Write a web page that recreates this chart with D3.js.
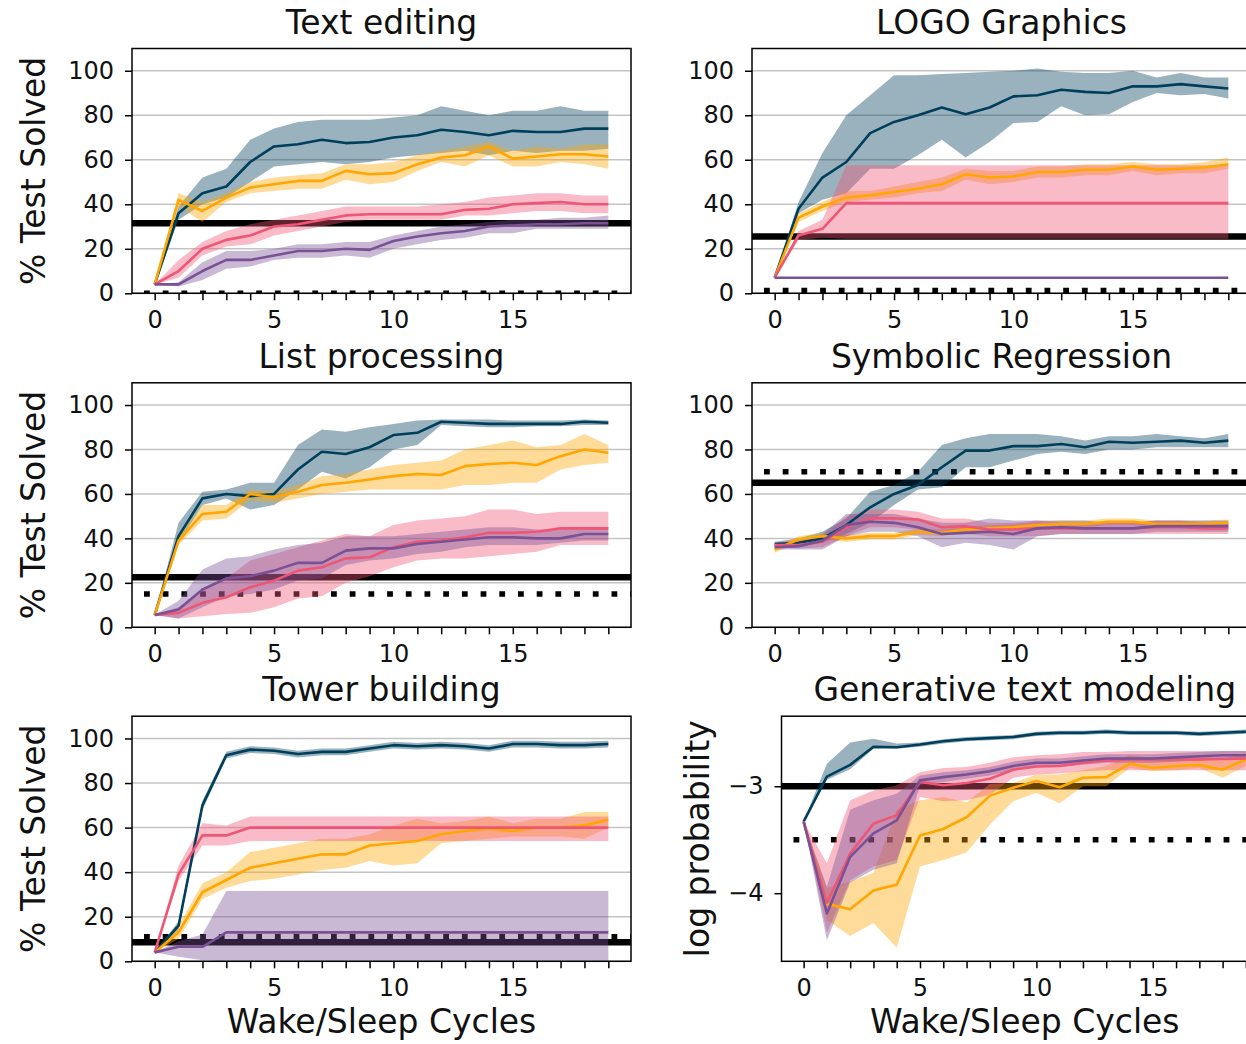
<!DOCTYPE html>
<html>
<head>
<meta charset="utf-8">
<style>
  body { margin: 0; background: #fff; }
  text { font-family: "DejaVu Sans", sans-serif; fill: #111; }
</style>
</head>
<body>
<div id="chart"></div>
<script src="https://d3js.org/d3.v7.min.js"></script>
<script>
// wake/sleep cycle index
var cycles = [0, 1, 2, 3, 4, 5, 6, 7, 8, 9, 10, 11, 12, 13, 14, 15, 16, 17, 18, 19];
var pctTicks = [0, 20, 40, 60, 80, 100];
var logTicks = [-4, -3];

// ---- Text editing
var te_blue    = [4, 36, 45, 48, 59, 66, 67, 69, 67.5, 68, 70, 71, 73.5, 72.5, 71, 73, 72.5, 72.5, 74, 74];
var te_blue_lo = [4, 33, 40, 43, 50, 57, 58, 59, 58, 59, 61, 62, 63, 64, 62, 64, 63, 64, 64, 65];
var te_blue_hi = [4, 39, 52, 56, 69, 74, 77, 78, 78, 78, 79, 80, 84, 82, 80, 82, 82, 84, 82, 82];
var te_orange    = [4, 42, 37, 43, 47.5, 49, 50.5, 50.5, 55, 53.5, 54, 58, 61, 62, 66, 60.5, 61.5, 62.5, 62.5, 61.5];
var te_orange_lo = [4, 39, 32, 41, 45, 46, 47, 47, 51, 49, 50, 55, 59, 57, 62, 57, 57, 59, 58, 56];
var te_orange_hi = [4, 45, 41, 45, 50, 52, 53, 54, 58, 58, 59, 62, 64, 66, 68, 64, 66, 65, 67, 67];
var te_pink    = [4, 10, 20, 24, 26, 30, 31, 33, 35, 35.5, 35.5, 35.5, 35.5, 37.5, 38, 40, 40.5, 41, 40, 40];
var te_pink_lo = [4, 7, 17, 21, 22, 26, 28, 30, 32, 33, 33, 33, 33, 35, 35, 36, 37, 37, 36, 36];
var te_pink_hi = [4, 15, 23, 28, 31, 33, 35, 37, 39, 39, 39, 39, 40, 41, 43, 44, 45, 45, 44, 44];
var te_purple    = [4, 4, 10, 15, 15, 17, 19, 19, 20, 19.5, 23.5, 25.5, 27, 28, 30, 30.5, 31, 31, 31.5, 31.5];
var te_purple_lo = [4, 3, 6, 11, 12, 15, 16, 16, 17, 16, 20, 22, 24, 25, 27, 27, 29, 29, 29, 29];
var te_purple_hi = [4, 5, 14, 19, 19, 20, 22, 22, 23, 23, 26, 28, 30, 31, 32, 33, 33, 34, 34, 35];
var te_solid = 31.5, te_dotted = 0;

// ---- LOGO Graphics
var lg_blue    = [7, 38, 52, 59, 72, 77, 80, 83.5, 80.5, 83.5, 88.5, 89, 91.5, 90.5, 90, 93, 93, 94, 93, 92];
var lg_blue_lo = [7, 36, 42, 45, 56, 56, 62, 69, 61, 68, 76.5, 77, 84, 80, 80.5, 86, 90, 89, 89.5, 87.5];
var lg_blue_hi = [7, 41, 63, 80, 89, 98, 98, 98.5, 99, 99.5, 100, 101, 99.5, 99, 99, 100, 97, 99, 97, 97];
var lg_orange    = [7, 34, 39, 43, 44, 45.5, 47, 49, 53.5, 52, 52.5, 54.5, 54.5, 55.5, 55.5, 57, 55.5, 56, 56.5, 58];
var lg_orange_lo = [7, 32, 37, 41, 42, 43, 45, 46, 51, 49, 50, 52, 52, 53, 53, 55, 53, 54, 54, 56];
var lg_orange_hi = [7, 36, 41, 46, 46, 48, 50, 52, 56, 55, 55, 57, 57, 58, 58, 59, 58, 58, 59, 61];
var lg_pink    = [7, 26, 29, 40.5, 40.5, 40.5, 40.5, 40.5, 40.5, 40.5, 40.5, 40.5, 40.5, 40.5, 40.5, 40.5, 40.5, 40.5, 40.5, 40.5];
var lg_pink_lo = [7, 24, 25, 24.5, 24.5, 24.5, 24.5, 24.5, 24.5, 24.5, 24.5, 24.5, 24.5, 24.5, 24.5, 24.5, 24.5, 24.5, 24.5, 24.5];
var lg_pink_hi = [7, 28, 33, 57.5, 57.5, 57.5, 57.5, 57.5, 57.5, 57.5, 57.5, 57.5, 57.5, 57.5, 57.5, 57.5, 57.5, 57.5, 57.5, 57.5];
var lg_purple    = [7, 7, 7, 7, 7, 7, 7, 7, 7, 7, 7, 7, 7, 7, 7, 7, 7, 7, 7, 7];
var lg_purple_lo = [7, 7, 7, 7, 7, 7, 7, 7, 7, 7, 7, 7, 7, 7, 7, 7, 7, 7, 7, 7];
var lg_purple_hi = [7, 7, 7, 7, 7, 7, 7, 7, 7, 7, 7, 7, 7, 7, 7, 7, 7, 7, 7, 7];
var lg_solid = 25.5, lg_dotted = 1.3;

// ---- List processing
var lp_blue    = [5.5, 41, 58, 60, 59, 60, 71, 79, 78, 81, 86.5, 87.5, 92.5, 92, 91.5, 91.5, 91.5, 91.5, 92.5, 92];
var lp_blue_lo = [5.5, 38, 55, 58, 53, 55, 62, 70, 67, 72, 80, 82, 91, 90.5, 90, 90, 90.5, 90.5, 91, 91];
var lp_blue_hi = [5.5, 47, 61, 62, 65, 65, 82, 89, 88, 90, 91.5, 93, 93.5, 93.5, 93.5, 93, 93, 93, 93.5, 93];
var lp_orange    = [5.5, 39, 51, 52, 60, 58.5, 61, 64, 65, 66.5, 68, 69, 68.5, 72.5, 73.5, 74, 73, 77, 80, 78.5];
var lp_orange_lo = [5.5, 37, 48, 49, 57, 56, 58, 60, 61, 62, 62, 62, 62, 64, 64, 65, 65, 71, 73, 74];
var lp_orange_hi = [5.5, 41, 55, 55, 62, 61, 64, 68, 69, 71, 73, 74, 75, 80, 82, 84, 81, 82, 87, 82];
var lp_pink    = [5.5, 6.5, 11, 13.5, 18, 21, 25.5, 27, 31, 31.5, 36, 38.5, 39, 40.5, 42.5, 42.5, 43, 44.5, 44.5, 44.5];
var lp_pink_lo = [5.5, 4, 5, 6, 6.5, 9, 13, 14, 20, 23, 27, 30, 31, 31, 32, 33, 34, 37, 37, 37];
var lp_pink_hi = [5.5, 9, 17, 22, 30, 33, 36, 39, 42, 41, 46, 48, 49, 50, 53, 53, 51, 52, 52, 52];
var lp_purple    = [5.5, 8, 17, 22, 23, 25.5, 29, 29, 34.5, 35.5, 35.5, 37.5, 38.5, 39.5, 40.5, 40.5, 40, 40, 42, 42];
var lp_purple_lo = [5.5, 4, 9, 14, 15, 17, 21, 22, 28, 30, 31, 33, 34, 36, 37, 37, 37, 38, 39, 39];
var lp_purple_hi = [5.5, 12, 26, 31, 32, 35, 37, 38, 41, 41, 41, 42, 43, 44, 45, 45, 44, 44, 45, 45];
var lp_solid = 22.5, lp_dotted = 15;

// ---- Symbolic Regression
var sr_blue    = [37.5, 38, 40, 46, 54, 60, 64, 72, 79.5, 79.5, 81.5, 81.5, 82.5, 81, 83.5, 83, 83.5, 84, 83, 84];
var sr_blue_lo = [36.5, 37, 38, 42, 47, 55, 62, 63, 72, 72, 75, 78, 79, 78, 80, 80, 81, 81, 81, 81];
var sr_blue_hi = [38.5, 40, 43, 49, 61, 64, 70, 82, 85, 87, 87, 87, 86, 84, 86, 86, 87, 86, 85, 87];
var sr_orange    = [35, 39.5, 41, 40, 41, 41, 43, 42.5, 44, 44.5, 45, 46, 46.5, 46.5, 47.5, 47.5, 46.5, 46.5, 46.5, 47];
var sr_orange_lo = [33.5, 38, 39.5, 38.5, 39.5, 39.5, 41.5, 41, 42.5, 43, 43.5, 44.5, 45, 45, 46, 46, 45, 45, 45, 45.5];
var sr_orange_hi = [36.5, 41, 42.5, 41.5, 42.5, 42.5, 44.5, 44, 45.5, 46, 46.5, 47.5, 48, 48, 49, 49, 48, 48, 48, 48.5];
var sr_pink    = [37, 37, 38.5, 45, 49, 49, 48.5, 45, 45.5, 44, 44, 44.5, 44.5, 44.5, 44.5, 44.5, 45, 45, 44.5, 44.5];
var sr_pink_lo = [36, 35.5, 36, 41, 45, 45, 44, 42, 42, 41, 41, 41, 42, 42, 42, 42, 42, 42, 42, 42];
var sr_pink_hi = [38, 39, 41, 50, 53, 53, 52, 49, 49, 47, 47, 48, 47, 47, 47, 47, 48, 48, 47, 47];
var sr_purple    = [36, 36.5, 39, 46, 47.5, 47, 45, 42, 42.5, 43, 42, 44.5, 45, 44.5, 44.5, 44.5, 45.5, 45.5, 45.5, 45.5];
var sr_purple_lo = [35, 35, 35, 41, 43, 43, 41, 36, 38, 37, 35, 41, 42, 42, 42, 42, 43, 43, 43, 43];
var sr_purple_hi = [37, 38, 42, 51, 51, 51, 49, 47, 47, 49, 48, 48, 48, 48, 47, 47, 48, 48, 48, 48];
var sr_solid = 65, sr_dotted = 70;

// ---- Tower building
var tb_blue    = [4, 16, 70, 92.5, 95, 94.5, 93, 94, 94, 95.5, 97, 96.5, 97, 96.5, 95.5, 97.5, 97.5, 97, 97, 97.5];
var tb_blue_lo = [4, 14, 68, 91, 93.5, 93, 91.5, 92.5, 92.5, 94, 95.5, 95, 95.5, 95, 94, 96, 96, 95.5, 95.5, 96];
var tb_blue_hi = [4, 18, 72, 94, 96.5, 96, 94.5, 95.5, 95.5, 97, 98.5, 98, 98.5, 98, 97, 99, 99, 98.5, 98.5, 99];
var tb_orange    = [4, 13, 31, 36.5, 42, 44, 46, 48, 48, 52, 53, 54, 57, 58.5, 59.5, 58.5, 60, 60, 61, 63.5];
var tb_orange_lo = [4, 10, 28, 33, 36, 37, 39, 41, 42, 45, 43, 44, 53, 54, 55, 56, 56, 56, 55, 60];
var tb_orange_hi = [4, 16, 35, 40, 49, 51, 53, 55, 55, 57, 61, 64, 62, 63, 65, 62, 64, 64, 67, 67];
var tb_pink    = [4, 39, 56.5, 56.5, 60, 60, 60, 60, 60, 60, 60, 60, 60, 60, 60, 60, 60, 60, 60, 60];
var tb_pink_lo = [4, 36, 52, 52, 54, 54, 54, 54, 54, 54, 54, 54, 54, 54, 54, 54, 54, 54, 54, 54];
var tb_pink_hi = [4, 43, 62, 61, 65, 65, 65, 65, 65, 65, 65, 65, 65, 65, 65, 65, 65, 65, 65, 65];
var tb_purple    = [4, 6.5, 6.5, 13, 13, 13, 13, 13, 13, 13, 13, 13, 13, 13, 13, 13, 13, 13, 13, 13];
var tb_purple_lo = [4, 2, 0.5, 0, 0, 0, 0, 0, 0, 0, 0, 0, 0, 0, 0, 0, 0, 0, 0, 0];
var tb_purple_hi = [4, 9, 12, 31.5, 31.5, 31.5, 31.5, 31.5, 31.5, 31.5, 31.5, 31.5, 31.5, 31.5, 31.5, 31.5, 31.5, 31.5, 31.5, 31.5];
var tb_solid = 8.5, tb_dotted = 11;

// ---- Generative text modeling (log probability)
var gt_blue    = [-3.33, -2.91, -2.80, -2.63, -2.635, -2.61, -2.58, -2.56, -2.55, -2.54, -2.51, -2.50, -2.50, -2.49, -2.50, -2.50, -2.50, -2.51, -2.50, -2.49];
var gt_blue_lo = [-3.33, -2.94, -2.84, -2.65, -2.65, -2.63, -2.60, -2.58, -2.57, -2.56, -2.53, -2.52, -2.52, -2.51, -2.52, -2.52, -2.52, -2.53, -2.52, -2.51];
var gt_blue_hi = [-3.33, -2.79, -2.59, -2.555, -2.60, -2.59, -2.56, -2.54, -2.53, -2.52, -2.49, -2.48, -2.48, -2.47, -2.48, -2.48, -2.48, -2.49, -2.48, -2.47];
var gt_orange    = [-3.33, -4.10, -4.15, -3.975, -3.92, -3.46, -3.40, -3.29, -3.09, -3.015, -2.95, -3.01, -2.92, -2.915, -2.79, -2.83, -2.81, -2.80, -2.845, -2.75];
var gt_orange_lo = [-3.33, -4.25, -4.40, -4.28, -4.51, -3.75, -3.69, -3.62, -3.36, -3.14, -3.06, -3.16, -3.00, -3.00, -2.83, -2.86, -2.85, -2.83, -2.92, -2.81];
var gt_orange_hi = [-3.33, -3.95, -3.89, -3.81, -3.22, -3.13, -3.10, -3.15, -2.98, -2.97, -2.89, -2.89, -2.85, -2.81, -2.71, -2.74, -2.72, -2.71, -2.75, -2.69];
var gt_pink    = [-3.33, -4.09, -3.63, -3.35, -3.27, -2.96, -2.99, -2.97, -2.93, -2.845, -2.815, -2.81, -2.78, -2.76, -2.75, -2.75, -2.75, -2.75, -2.745, -2.74];
var gt_pink_lo = [-3.33, -4.37, -3.88, -3.75, -3.69, -3.10, -3.14, -3.13, -3.08, -2.92, -2.89, -2.88, -2.86, -2.85, -2.85, -2.85, -2.85, -2.85, -2.85, -2.85];
var gt_pink_hi = [-3.33, -3.72, -3.13, -3.04, -2.99, -2.87, -2.83, -2.82, -2.78, -2.73, -2.71, -2.70, -2.68, -2.68, -2.67, -2.67, -2.67, -2.67, -2.67, -2.67];
var gt_purple    = [-3.33, -4.19, -3.66, -3.44, -3.32, -2.945, -2.915, -2.89, -2.86, -2.81, -2.78, -2.78, -2.76, -2.74, -2.74, -2.74, -2.73, -2.72, -2.71, -2.71];
var gt_purple_lo = [-3.33, -4.44, -3.90, -3.78, -3.72, -2.99, -2.96, -2.93, -2.90, -2.85, -2.82, -2.82, -2.80, -2.78, -2.78, -2.78, -2.77, -2.76, -2.75, -2.75];
var gt_purple_hi = [-3.33, -3.94, -3.22, -3.13, -3.07, -2.90, -2.87, -2.85, -2.82, -2.77, -2.74, -2.74, -2.72, -2.70, -2.70, -2.70, -2.69, -2.68, -2.67, -2.67];
var gt_solid = -3.0, gt_dotted = -3.5;

var colors = { blue: "#003f5c", orange: "#ffa600", pink: "#ef5675", purple: "#7a5195" };

function four(b, bl, bh, o, ol, oh, p, pl, ph, u, ul, uh) {
  return [
    { color: colors.blue,   mean: b, lo: bl, hi: bh },
    { color: colors.orange, mean: o, lo: ol, hi: oh },
    { color: colors.pink,   mean: p, lo: pl, hi: ph },
    { color: colors.purple, mean: u, lo: ul, hi: uh }
  ];
}

var rowTop = [48.5, 382.8, 716.2], rowBottom = [293.3, 627.3, 961.3];

var panels = [
  { title: "Text editing", left: 132, right: 631, row: 0, ydom: [0, 110], yticks: pctTicks, grid: true,
    ylabel: "% Test Solved", solid: te_solid, dotted: te_dotted,
    series: four(te_blue, te_blue_lo, te_blue_hi, te_orange, te_orange_lo, te_orange_hi,
                 te_pink, te_pink_lo, te_pink_hi, te_purple, te_purple_lo, te_purple_hi) },
  { title: "LOGO Graphics", left: 752, right: 1251, row: 0, ydom: [0, 110], yticks: pctTicks, grid: true,
    solid: lg_solid, dotted: lg_dotted,
    series: four(lg_blue, lg_blue_lo, lg_blue_hi, lg_orange, lg_orange_lo, lg_orange_hi,
                 lg_pink, lg_pink_lo, lg_pink_hi, lg_purple, lg_purple_lo, lg_purple_hi) },
  { title: "List processing", left: 132, right: 631, row: 1, ydom: [0, 110], yticks: pctTicks, grid: true,
    ylabel: "% Test Solved", solid: lp_solid, dotted: lp_dotted,
    series: four(lp_blue, lp_blue_lo, lp_blue_hi, lp_orange, lp_orange_lo, lp_orange_hi,
                 lp_pink, lp_pink_lo, lp_pink_hi, lp_purple, lp_purple_lo, lp_purple_hi) },
  { title: "Symbolic Regression", left: 752, right: 1251, row: 1, ydom: [0, 110], yticks: pctTicks, grid: true,
    solid: sr_solid, dotted: sr_dotted,
    series: four(sr_blue, sr_blue_lo, sr_blue_hi, sr_orange, sr_orange_lo, sr_orange_hi,
                 sr_pink, sr_pink_lo, sr_pink_hi, sr_purple, sr_purple_lo, sr_purple_hi) },
  { title: "Tower building", left: 132, right: 631, row: 2, ydom: [0, 110], yticks: pctTicks, grid: true,
    ylabel: "% Test Solved", xlabel: "Wake/Sleep Cycles", solid: tb_solid, dotted: tb_dotted,
    series: four(tb_blue, tb_blue_lo, tb_blue_hi, tb_orange, tb_orange_lo, tb_orange_hi,
                 tb_pink, tb_pink_lo, tb_pink_hi, tb_purple, tb_purple_lo, tb_purple_hi) },
  { title: "Generative text modeling", left: 781.5, right: 1268, row: 2, ydom: [-4.637, -2.345], yticks: logTicks, grid: false,
    ylabel: "log probability", ylabelX: 709, xlabel: "Wake/Sleep Cycles", solid: gt_solid, dotted: gt_dotted,
    series: four(gt_blue, gt_blue_lo, gt_blue_hi, gt_orange, gt_orange_lo, gt_orange_hi,
                 gt_pink, gt_pink_lo, gt_pink_hi, gt_purple, gt_purple_lo, gt_purple_hi) }
];

var svg = d3.select("#chart").append("svg")
  .attr("width", 1246).attr("height", 1044)
  .style("background", "#fff");

panels.forEach(function(p, k) {
  var top = rowTop[p.row], bottom = rowBottom[p.row];
  var x = d3.scaleLinear().domain([-0.95, 19.95]).range([p.left, p.right]);
  var y = d3.scaleLinear().domain(p.ydom).range([bottom, top]);
  var g = svg.append("g");

  g.append("clipPath").attr("id", "clip" + k)
    .append("rect").attr("x", p.left).attr("y", top)
    .attr("width", p.right - p.left).attr("height", bottom - top);
  var plot = g.append("g").attr("clip-path", "url(#clip" + k + ")");

  if (p.grid) {
    plot.selectAll(".grid").data(p.yticks).enter().append("line")
      .attr("x1", p.left).attr("x2", p.right)
      .attr("y1", function(d) { return y(d); }).attr("y2", function(d) { return y(d); })
      .attr("stroke", "#c4c4c4").attr("stroke-width", 1.5);
  }

  // reference lines
  plot.append("line")
    .attr("x1", p.left).attr("x2", p.right)
    .attr("y1", y(p.solid)).attr("y2", y(p.solid))
    .attr("stroke", "#000").attr("stroke-width", 6.5);
  plot.append("line")
    .attr("x1", p.left).attr("x2", p.right)
    .attr("y1", y(p.dotted)).attr("y2", y(p.dotted))
    .attr("stroke", "#000").attr("stroke-width", 5.5)
    .attr("stroke-dasharray", "5.8 12.9").attr("stroke-dashoffset", 6.7);

  // bands + mean lines
  p.series.forEach(function(s) {
    plot.append("path").datum(cycles)
      .attr("fill", s.color).attr("fill-opacity", 0.4).attr("stroke", "none")
      .attr("d", d3.area()
        .x(function(d, i) { return x(d); })
        .y0(function(d, i) { return y(s.lo[i]); })
        .y1(function(d, i) { return y(s.hi[i]); }));
  });
  p.series.forEach(function(s) {
    plot.append("path").datum(cycles)
      .attr("fill", "none").attr("stroke", s.color).attr("stroke-width", 2.6)
      .attr("stroke-linejoin", "round")
      .attr("d", d3.line()
        .x(function(d, i) { return x(d); })
        .y(function(d, i) { return y(s.mean[i]); }));
  });

  // axes
  var xa = g.append("g").attr("transform", "translate(0," + bottom + ")")
    .call(d3.axisBottom(x).tickValues(cycles).tickSize(7).tickSizeOuter(0).tickPadding(11)
      .tickFormat(function(d) { return d % 5 === 0 ? d : ""; }));
  var ya = g.append("g").attr("transform", "translate(" + p.left + ",0)")
    .call(d3.axisLeft(y).tickValues(p.yticks).tickSize(7).tickSizeOuter(0).tickPadding(11)
      .tickFormat(function(d) { return d < 0 ? "\u2212" + Math.abs(d) : d; }));
  [xa, ya].forEach(function(a) {
    a.select(".domain").remove();
    a.selectAll(".tick line").attr("stroke", "#000").attr("stroke-width", 1.5);
    a.selectAll(".tick text").attr("font-size", 24).attr("fill", "#111")
      .style("font-family", "'DejaVu Sans', sans-serif");
  });

  // frame
  g.append("rect").attr("x", p.left).attr("y", top)
    .attr("width", p.right - p.left).attr("height", bottom - top)
    .attr("fill", "none").attr("stroke", "#000").attr("stroke-width", 1.5);

  var cx = (p.left + p.right) / 2;
  g.append("text").attr("x", cx).attr("y", top - 15)
    .attr("text-anchor", "middle").attr("font-size", 33).text(p.title);

  if (p.ylabel) {
    var lx = p.ylabelX || 45;
    g.append("text")
      .attr("transform", "translate(" + lx + "," + ((top + bottom) / 2) + ") rotate(-90)")
      .attr("text-anchor", "middle").attr("font-size", 33).text(p.ylabel);
  }
  if (p.xlabel) {
    g.append("text").attr("x", cx).attr("y", 1033)
      .attr("text-anchor", "middle").attr("font-size", 33).text(p.xlabel);
  }
});
</script>
</body>
</html>
